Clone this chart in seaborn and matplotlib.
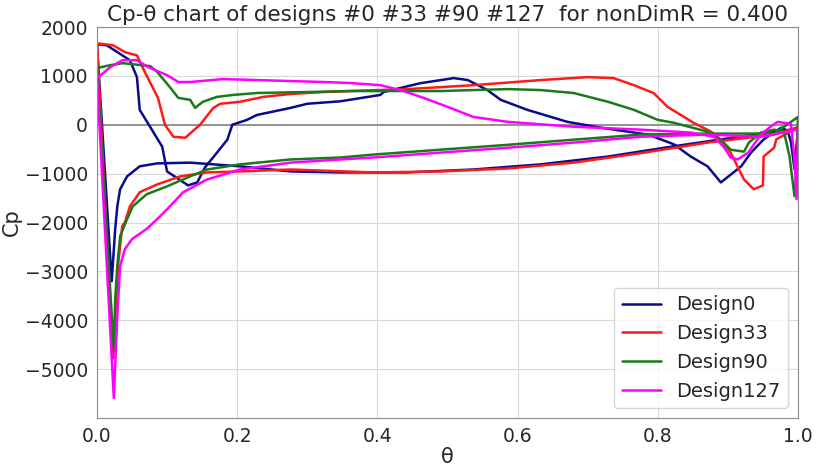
import matplotlib
matplotlib.use("Agg")
import matplotlib.pyplot as plt
import seaborn as sns
import pandas as pd

# ---- data ----
theta0 = [0.0, 0.014, 0.047, 0.057, 0.061, 0.093, 0.1, 0.13, 0.143, 0.154, 0.186, 0.193, 0.214, 0.228,
          0.276, 0.3, 0.347, 0.404, 0.409, 0.461, 0.509, 0.529, 0.557, 0.576, 0.614, 0.671, 0.719, 0.757,
          0.786, 0.823, 0.847, 0.871, 0.89, 0.919, 0.933, 0.951, 0.976, 0.985, 0.99, 0.995, 1.0,
          0.919, 0.823, 0.729, 0.633, 0.537, 0.443, 0.347, 0.276, 0.204, 0.133, 0.086, 0.061, 0.043,
          0.033, 0.029, 0.026, 0.021, 0.0]
cp0 = [1650, 1626, 1320, 975, 305, -447, -955, -1240, -1180, -875, -305, 0, 100, 200,
       345, 430, 480, 610, 670, 850, 955, 915, 710, 510, 305, 60, -60, -140,
       -200, -400, -650, -850, -1180, -850, -570, -300, -60, -120, -350, -900, -80,
       -240, -440, -650, -810, -915, -975, -975, -955, -850, -775, -790, -850, -1055,
       -1320, -1670, -2130, -3200, 1650]

theta33 = [0.0, 0.023, 0.04, 0.057, 0.069, 0.087, 0.097, 0.109, 0.126, 0.147, 0.166, 0.176, 0.204,
           0.237, 0.276, 0.323, 0.361, 0.443, 0.537, 0.633, 0.7, 0.737, 0.766, 0.794, 0.814, 0.833,
           0.851, 0.876, 0.89, 0.904, 0.923, 0.937, 0.95, 0.951, 0.966, 0.969, 1.0,
           0.966, 0.871, 0.776, 0.68, 0.586, 0.49, 0.394, 0.276, 0.204, 0.157, 0.119, 0.086, 0.061,
           0.047, 0.04, 0.036, 0.03, 0.026, 0.023, 0.0]
cp33 = [1667, 1626, 1485, 1420, 1057, 550, 0, -245, -265, 0, 345, 430, 470,
        570, 630, 670, 690, 730, 810, 915, 975, 955, 810, 650, 365, 200,
        40, -140, -305, -570, -1120, -1320, -1240, -650, -470, -300, -50,
        -200, -365, -580, -775, -895, -955, -975, -915, -955, -975, -1055, -1220, -1380,
        -1670, -1990, -2070, -2890, -4100, -4780, 1667]

theta90 = [0.0, 0.019, 0.037, 0.076, 0.086, 0.104, 0.116, 0.133, 0.14, 0.151, 0.171, 0.194, 0.228,
           0.3, 0.361, 0.49, 0.586, 0.633, 0.68, 0.729, 0.766, 0.8, 0.823, 0.871, 0.894, 0.904,
           0.923, 0.93, 0.947, 0.966, 0.98, 0.988, 0.995, 0.998, 1.0,
           0.966, 0.871, 0.776, 0.68, 0.586, 0.49, 0.394, 0.347, 0.276, 0.204, 0.157, 0.133, 0.1,
           0.071, 0.051, 0.043, 0.033, 0.029, 0.026, 0.024, 0.0]
cp90 = [1160, 1220, 1260, 1200, 1080, 770, 550, 510, 345, 470, 570, 610, 650,
        670, 690, 690, 730, 710, 650, 470, 305, 100, 40, -140, -365, -510,
        -550, -365, -160, -100, -140, -650, -1460, -900, 160,
        -180, -180, -200, -305, -410, -510, -610, -670, -710, -810, -915, -1055, -1260,
        -1420, -1670, -1930, -2280, -2890, -3560, -4600, 1160]

theta127 = [0.0, 0.019, 0.036, 0.057, 0.073, 0.1, 0.116, 0.133, 0.18, 0.228, 0.323, 0.361, 0.404,
            0.433, 0.466, 0.504, 0.537, 0.586, 0.68, 0.776, 0.847, 0.88, 0.894, 0.904, 0.914, 0.929,
            0.947, 0.961, 0.971, 0.98, 0.99, 0.995, 0.998, 1.0,
            0.947, 0.871, 0.776, 0.68, 0.586, 0.49, 0.394, 0.347, 0.276, 0.204, 0.157, 0.123, 0.1,
            0.086, 0.071, 0.05, 0.04, 0.033, 0.029, 0.024, 0.0]
cp127 = [950, 1180, 1320, 1320, 1180, 1015, 875, 875, 935, 915, 875, 855, 810,
         710, 550, 345, 160, 60, -40, -100, -160, -245, -450, -670, -710, -570,
         -200, -40, 60, 40, 20, -700, -1520, -100,
         -245, -200, -245, -365, -470, -570, -670, -710, -775, -915, -1120, -1380, -1730,
         -1930, -2130, -2340, -2540, -2890, -3900, -5590, 950]

labels = ["Design0", "Design33", "Design90", "Design127"]
colors = ["#0a0a8c", "#ff1a1a", "#1a7a1a", "#ff00ff"]
title = "Cp-θ chart of designs #0 #33 #90 #127  for nonDimR = 0.400"

series = [(theta0, cp0), (theta33, cp33), (theta90, cp90), (theta127, cp127)]

sns.set_style("whitegrid", {"axes.edgecolor": "0.55", "grid.color": "0.85"})
plt.rcParams["font.family"] = ["DejaVu Sans"]

fig = plt.figure(figsize=(8.17, 4.66), dpi=100)
ax = fig.add_axes([0.1187, 0.103, 0.858, 0.839])

for (th, cp), lab, col in zip(series, labels, colors):
    df = pd.DataFrame({"theta": th, "Cp": cp})
    sns.lineplot(data=df, x="theta", y="Cp", sort=False, estimator=None,
                 color=col, linewidth=1.8, label=lab, ax=ax)

ax.axhline(0, color="0.55", linewidth=1.3, zorder=1)
ax.set_xlim(0, 1)
ax.set_ylim(-6000, 2000)
ax.set_xticks([0.0, 0.2, 0.4, 0.6, 0.8, 1.0])
ax.set_yticks([-5000, -4000, -3000, -2000, -1000, 0, 1000, 2000])
ax.tick_params(labelsize=13.5, pad=3)
ax.set_xlabel("θ", fontsize=15, labelpad=1)
ax.set_ylabel("Cp", fontsize=15, labelpad=2)
ax.set_title(title, fontsize=15.5, pad=4)
ax.legend(loc="lower right", fontsize=14, frameon=True)

fig.savefig("out.png", dpi=100)
